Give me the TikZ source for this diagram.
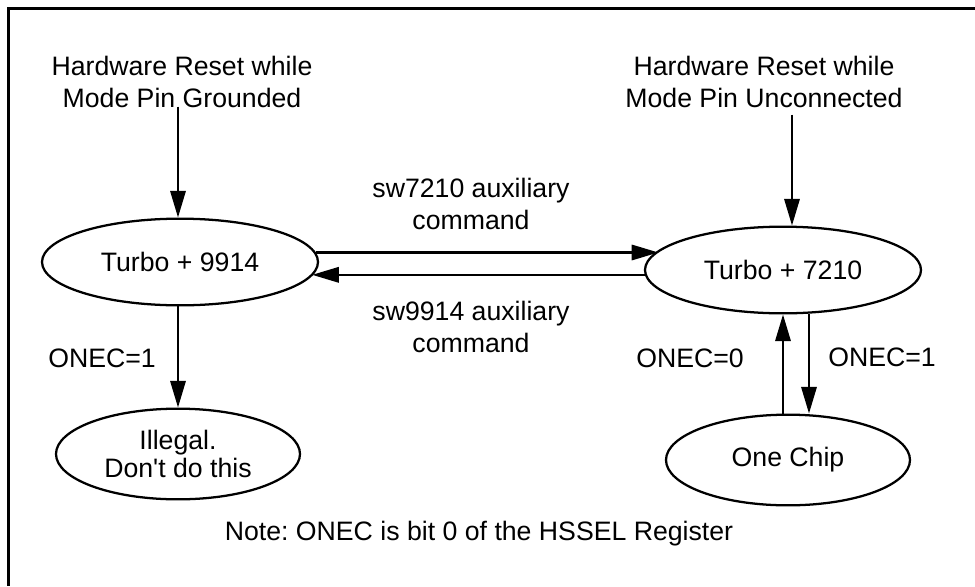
\documentclass[tikz,border=0pt]{standalone}
\usepackage{fontspec}
\setmainfont{Liberation Sans}[Ligatures=TeXOff]
\usetikzlibrary{arrows.meta,shapes.geometric}
\begin{document}
\frenchspacing
\begin{tikzpicture}[x=0.75pt,y=-0.75pt,
  every node/.style={font=\fontsize{20pt}{24pt}\selectfont, inner sep=0pt},
  state/.style={draw, ellipse, line width=1.7pt, inner sep=0pt},
  big/.style={minimum width=207pt, minimum height=65pt},
  small/.style={minimum width=183pt, minimum height=68pt},
  arr/.style={-{Triangle[length=20pt,width=11.5pt]}, line width=1.7pt},
  lbl/.style={align=center}]
\useasboundingbox (0,0) rectangle (975,586);
\draw[line width=2.25pt] (975,8.5) -- (8.5,8.5) -- (8.5,586);

\node[lbl] (tl) at (182,82) {Hardware Reset while\\Mode Pin Grounded};
\node[lbl] (tr) at (764,82) {Hardware Reset while\\Mode Pin Unconnected};

\node[state,big] (e1) at (180,262) {Turbo + 9914};
\node[state,big] (e2) at (783,270) {Turbo + 7210};
\node[state,small,align=center,font=\fontsize{20pt}{21pt}\selectfont] (il) at (178,454) {Illegal.\\Don't do this};
\node[state,small] (oc) at (788,460) {One Chip};

\node[lbl] (l1) at (471,204) {sw7210 auxiliary\\command};
\node[lbl] (l2) at (471,327) {sw9914 auxiliary\\command};
\node (o1) at (102,358) {ONEC=1};
\node (o0) at (690,358) {ONEC=0};
\node (o2) at (882,357) {ONEC=1};
\node (note) at (479,534) {Note: ONEC is bit 0 of the HSSEL Register};

% reset arrows
\coordinate (p1) at ([xshift=-1.5pt]e1.north);
\draw[arr] ([yshift=1pt]tl.south -| p1) -- (p1);
\coordinate (p2) at ([xshift=6.75pt]e2.north);
\draw[arr] ([yshift=-5pt]tr.south -| p2) -- (p2);

% horizontal arrows
\draw[arr] (e1.4.7) -- (e1.4.7 -| e2.171.3);
\draw[arr] (e2.182.5) -- (e2.182.5 -| e1.-6.1);

% left down
\coordinate (p3) at ([xshift=-1.5pt]e1.south);
\draw[arr] (p3) -- (il.north -| p3);

% right vertical pair
\draw[arr] ([xshift=-3.75pt]oc.north) -- ([xshift=-3.75pt]oc.north |- e2.south);
\draw[arr] ([xshift=19.5pt]e2.south) -- ([xshift=19.5pt]e2.south |- oc.north);
\end{tikzpicture}
\end{document}
